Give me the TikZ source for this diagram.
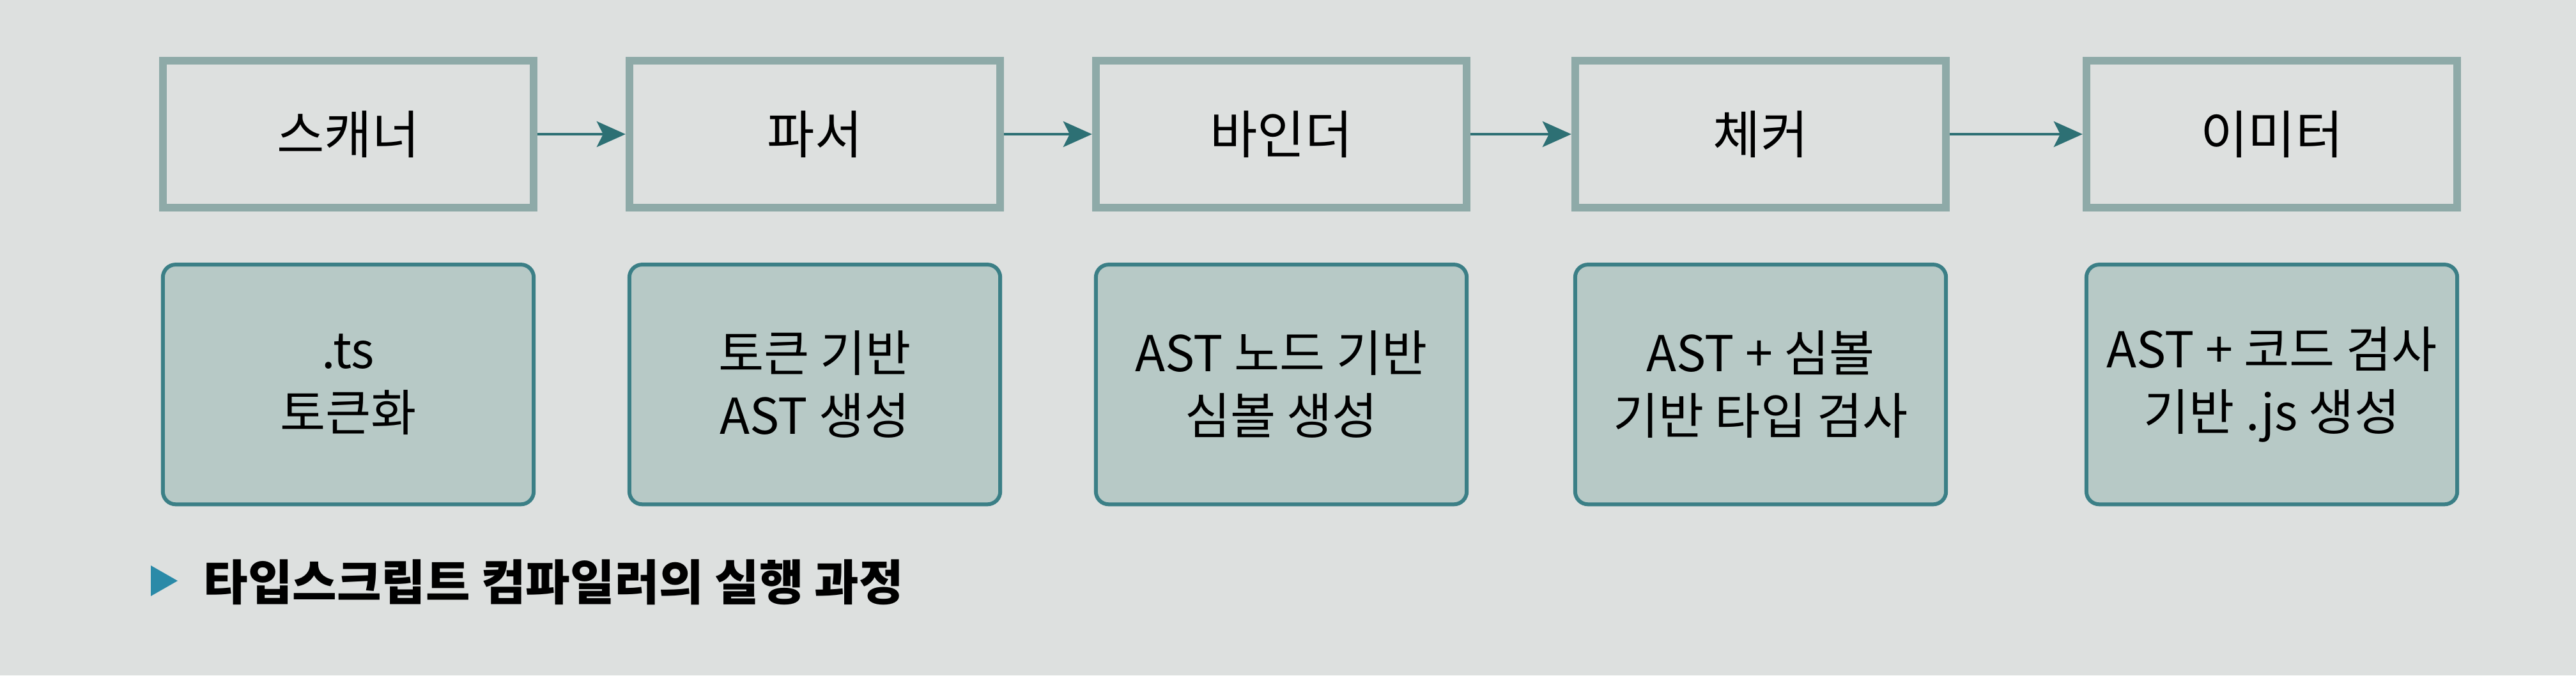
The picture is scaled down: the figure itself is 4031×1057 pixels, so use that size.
\documentclass[tikz,border=0pt]{standalone}
\usepackage{fontspec}
\setmainfont{Noto Sans CJK KR}
\usetikzlibrary{arrows.meta,positioning}
\definecolor{paper}{HTML}{DDE0DF}
\definecolor{stageline}{HTML}{8EAAA8}
\definecolor{taskline}{HTML}{3B7F86}
\definecolor{taskfill}{HTML}{B7C9C6}
\definecolor{flowline}{HTML}{2D7074}
\definecolor{marker}{HTML}{2A8AA8}

\begin{document}
\begin{tikzpicture}[x=0.01cm,y=-0.01cm,
    stage/.style={draw=stageline, line width=3.4pt, minimum width=5.8cm, minimum height=2.3cm, font=\fontsize{23}{27}\selectfont},
    task/.style={draw=taskline, fill=taskfill, line width=1.7pt, rounded corners=0.2cm, minimum width=5.8cm, minimum height=3.75cm, align=center, font=\fontsize{22}{28}\selectfont},
    flow/.style={draw=flowline, line width=1.4pt, -{Stealth[length=0.45cm,width=0.4cm,inset=0.1cm]}}]
    \fill[paper] (0,0) rectangle (4031,1057);
    \node[stage] (scanner) at (545,210) {스캐너};
    \node[stage] (parser) at (1275,210) {파서};
    \node[stage] (binder) at (2005,210) {바인더};
    \node[stage] (checker) at (2755,210) {체커};
    \node[stage] (emitter) at (3555,210) {이미터};
    \node[task, below=0.8cm of scanner] (scanjob) {.ts\\토큰화};
    \node[task, below=0.8cm of parser] (parsejob) {토큰 기반\\AST 생성};
    \node[task, below=0.8cm of binder] (bindjob) {AST 노드 기반\\심볼 생성};
    \node[task, below=0.8cm of checker] (checkjob) {AST + 심볼\\기반 타입 검사};
    \node[task, below=0.8cm of emitter] (emitjob) {AST + 코드 검사\\기반 .js 생성};
    \draw[flow] (scanner) -- (parser);
    \draw[flow] (parser) -- (binder);
    \draw[flow] (binder) -- (checker);
    \draw[flow] (checker) -- (emitter);
    \fill[marker] (236,885) -- (278,909) -- (236,933) -- cycle;
    \node[anchor=west, inner sep=0pt, font=\fontsize{21.5}{25}\bfseries\selectfont] (caption) at (318,911) {타입스크립트 컴파일러의 실행 과정};
\end{tikzpicture}
\end{document}
